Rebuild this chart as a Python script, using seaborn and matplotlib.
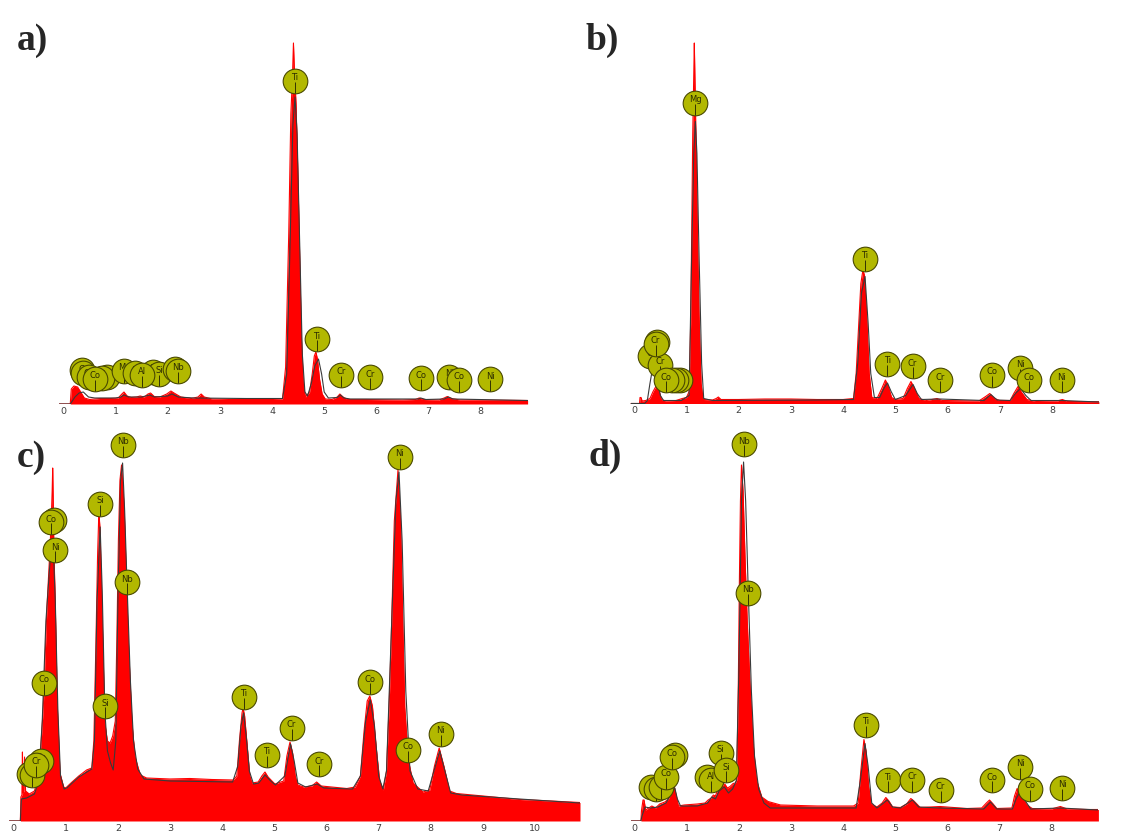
import numpy as np
import pandas as pd
import seaborn as sns
import matplotlib.pyplot as plt

sns.set_style("white")

# ---- spectrum a) : energy (keV) / counts (a.u.) ----
a_red_x = [-0.08, 0.13, 0.15, 0.20, 0.27, 0.33, 0.40, 0.50, 0.70, 0.90, 1.05, 1.12, 1.16, 1.22, 1.30,
           1.40, 1.47, 1.55, 1.62, 1.67, 1.74, 1.85, 1.98, 2.06, 2.12, 2.25, 2.45, 2.58, 2.64, 2.70,
           2.85, 3.2, 3.6, 4.0, 4.20, 4.26, 4.32, 4.36, 4.39, 4.41, 4.43, 4.46, 4.49, 4.52, 4.56,
           4.60, 4.64, 4.72, 4.77, 4.81, 4.84, 4.87, 4.91, 4.96, 5.02, 5.15, 5.25, 5.30, 5.36, 5.45,
           5.8, 6.5, 6.75, 6.82, 6.9, 7.2, 7.3, 7.36, 7.44, 7.6, 8.2, 8.9]
a_red_y = [0, 0, 15, 18, 17, 12, 6, 4.5, 5.5, 5.5, 6, 10, 12, 8, 6.5,
           7, 8, 7, 10, 11, 7.5, 7, 10, 13, 11, 7, 5.5, 7, 10, 7,
           5, 4.5, 4.5, 4.5, 5, 37, 171, 290, 325, 361, 330, 300, 240, 171, 70,
           20, 7, 12, 30, 48, 52, 45, 25, 10, 5, 4.5, 7, 10, 7, 4.5,
           4.5, 4, 4.5, 6, 4.5, 4, 6, 7.5, 5.5, 4, 3.8, 3.5]
a_fit_x = [-0.08, 0.13, 0.17, 0.22, 0.30, 0.38, 0.48, 0.6, 1.0, 1.1, 1.16, 1.25, 1.5, 1.65, 1.75,
           2.0, 2.08, 2.2, 2.5, 3.5, 4.2, 4.28, 4.34, 4.40, 4.44, 4.48, 4.53, 4.58, 4.63, 4.68,
           4.75, 4.82, 4.89, 4.95, 5.0, 5.08, 5.25, 5.31, 5.38, 5.5, 6.8, 6.85, 6.95, 7.3, 7.38,
           7.47, 8.9]
a_fit_y = [0, 0, 3, 7, 11, 12, 7, 6, 6, 7, 9, 7, 7, 9, 7,
           8, 10, 7, 6, 5.5, 5.5, 30, 150, 280, 307, 270, 160, 50, 12, 8,
           20, 38, 45, 30, 12, 6, 6.5, 9, 6, 5, 5, 6, 4.5, 5, 7,
           5, 3.5]
a_lab_el = ["O", "Cr", "Cr", "Ni", "Ni", "Co", "Si", "Si", "Mg", "Al", "Al", "Nb", "Nb",
            "Ti", "Ti", "Cr", "Cr", "Co", "Ni", "Co", "Ni"]
a_lab_x = [0.36, 0.38, 0.48, 0.83, 0.73, 0.60, 1.72, 1.83, 1.16, 1.37, 1.50, 2.14, 2.20,
           4.44, 4.86, 5.33, 5.88, 6.85, 7.40, 7.58, 8.18]
a_lab_y = [34, 31, 27, 27, 26, 25, 32, 30, 33, 30.5, 29, 35, 33,
           323, 64.5, 29, 26.5, 25.5, 27, 24, 24.5]

# ---- spectrum b) ----
b_red_x = [-0.06, 0.10, 0.11, 0.13, 0.15, 0.22, 0.30, 0.36, 0.43, 0.48, 0.52, 0.6, 0.8, 0.92, 1.0,
           1.05, 1.08, 1.10, 1.12, 1.14, 1.15, 1.16, 1.18, 1.21, 1.24, 1.28, 1.32, 1.5, 1.57, 1.61,
           1.66, 2.0, 2.5, 3.0, 3.5, 4.0, 4.2, 4.25, 4.30, 4.34, 4.38, 4.41, 4.45, 4.50, 4.55,
           4.65, 4.74, 4.81, 4.86, 4.93, 5.0, 5.15, 5.23, 5.30, 5.36, 5.45, 5.6, 5.8, 5.9, 6.6,
           6.73, 6.81, 6.9, 7.0, 7.2, 7.27, 7.35, 7.42, 7.52, 7.7, 8.1, 8.2, 8.3, 8.9]
b_red_y = [0, 0, 6, 6, 2.5, 3, 5, 12, 18.5, 12, 4, 2.5, 3, 5, 6,
           12, 80, 170, 270, 330, 360.5, 330, 270, 170, 90, 20, 4, 3.5, 5, 6.5,
           4, 4, 4.5, 4.5, 4, 4, 5, 30, 80, 120, 133.5, 128, 90, 30, 6,
           5, 15, 23.5, 18, 6, 4, 5, 15, 22, 16, 5, 3, 5, 3, 2.5,
           7, 10, 5, 3, 3, 10, 17, 11, 4, 2, 2.5, 4, 2, 1.8]
b_fit_x = [-0.06, 0.2, 0.25, 0.30, 0.34, 0.38, 0.43, 0.50, 0.56, 0.9, 1.05, 1.10, 1.14, 1.17, 1.20,
           1.24, 1.29, 1.33, 1.5, 3.5, 4.2, 4.28, 4.35, 4.42, 4.48, 4.53, 4.6, 4.7, 4.78, 4.85,
           4.92, 5.0, 5.2, 5.34, 5.42, 5.5, 5.85, 6.7, 6.83, 6.95, 7.2, 7.30, 7.40, 7.5, 7.6,
           8.2, 8.9]
b_fit_y = [0, 0, 3, 20, 32, 34, 25, 8, 3, 3, 8, 150, 250, 282, 250,
           150, 40, 5, 3, 3.5, 4, 40, 110, 127, 80, 30, 6, 6, 15, 20.5,
           12, 4, 8, 19, 10, 4, 4.5, 3, 9, 3.5, 3, 10, 15, 8, 3,
           3, 1.5]
b_lab_el = ["O", "Cr", "Cr", "Cr", "Ni", "Ni", "Co", "Co", "Mg",
            "Ti", "Ti", "Cr", "Cr", "Co", "Ni", "Co", "Ni"]
b_lab_x = [0.30, 0.49, 0.43, 0.41, 0.87, 0.80, 0.72, 0.61, 1.17,
           4.42, 4.85, 5.33, 5.86, 6.85, 7.39, 7.57, 8.19]
b_lab_y = [47.5, 39, 62, 60, 23.5, 23.5, 23.5, 23.5, 301,
           145, 40, 37.5, 23.5, 29, 36, 23.5, 23.5]

# ---- spectrum c) ----
c_red_x = [-0.08, 0.13, 0.14, 0.16, 0.17, 0.18, 0.20, 0.21, 0.23, 0.30, 0.40, 0.48, 0.53, 0.57, 0.61,
           0.64, 0.69, 0.72, 0.74, 0.75, 0.76, 0.77, 0.80, 0.84, 0.89, 0.96, 1.0, 1.1, 1.25, 1.4,
           1.5, 1.54, 1.58, 1.61, 1.63, 1.64, 1.66, 1.67, 1.71, 1.75, 1.80, 1.85, 1.90, 1.95, 1.98,
           2.01, 2.04, 2.07, 2.10, 2.12, 2.16, 2.20, 2.27, 2.33, 2.43, 2.55, 3.0, 3.38, 3.8, 4.21,
           4.28, 4.33, 4.38, 4.40, 4.43, 4.48, 4.53, 4.57, 4.69, 4.76, 4.82, 4.88, 5.01, 5.18, 5.24,
           5.30, 5.35, 5.40, 5.45, 5.56, 5.72, 5.81, 5.9, 6.39, 6.55, 6.65, 6.72, 6.78, 6.83, 6.88,
           6.95, 7.02, 7.09, 7.15, 7.20, 7.24, 7.30, 7.37, 7.42, 7.47, 7.50, 7.57, 7.66, 7.85, 7.98,
           8.07, 8.16, 8.25, 8.36, 8.49, 9.0, 9.7, 10.3, 10.86]
c_red_y = [0, 0, 24, 26, 69, 28, 30, 64, 30, 27, 30, 45, 80, 114, 170,
           214, 264, 298, 330, 353, 320, 281, 214, 114, 48, 34, 33, 38, 45, 51,
           53, 81, 181, 264, 300, 306, 290, 264, 181, 98, 80, 78, 85, 100, 181,
           281, 341, 356, 330, 314, 248, 181, 98, 64, 46, 43, 42, 42.5, 41.5, 41,
           45, 80, 108, 113, 105, 75, 45, 38, 39, 45, 49, 44, 37, 40, 65,
           79, 68, 45, 36, 34, 35, 39, 35, 32.5, 34, 45, 90, 120, 125, 115,
           75, 40, 31, 50, 114, 181, 300, 351, 300, 181, 114, 61, 38, 29, 31,
           55, 73, 55, 30, 27.5, 25, 21.5, 20, 18.5]
c_fit_x = [-0.08, 0.13, 0.15, 0.25, 0.40, 0.48, 0.55, 0.62, 0.70, 0.76, 0.80, 0.85, 0.90, 0.97, 1.02,
           1.25, 1.5, 1.55, 1.60, 1.66, 1.70, 1.75, 1.80, 1.86, 1.91, 1.96, 2.0, 2.05, 2.09, 2.13,
           2.18, 2.24, 2.30, 2.38, 2.5, 3.0, 4.2, 4.3, 4.36, 4.41, 4.46, 4.52, 4.6, 4.7, 4.82,
           4.93, 5.02, 5.2, 5.31, 5.38, 5.45, 5.6, 5.82, 5.95, 6.5, 6.65, 6.75, 6.84, 6.92, 7.0,
           7.08, 7.15, 7.25, 7.33, 7.39, 7.45, 7.52, 7.6, 7.75, 7.95, 8.07, 8.17, 8.27, 8.38, 8.6,
           9.7, 10.86]
c_fit_y = [0, 0, 22, 23, 27, 40, 100, 200, 260, 275, 220, 110, 45, 32, 33,
           44, 52, 80, 220, 294, 230, 110, 70, 58, 51, 80, 220, 340, 358, 310,
           230, 140, 80, 52, 42, 40, 39, 55, 95, 108, 85, 50, 37, 38, 46,
           40, 36, 45, 77, 60, 38, 34, 37, 33, 32, 45, 100, 121, 95, 45,
           32, 50, 200, 320, 349, 280, 130, 50, 32, 30, 52, 70, 50, 28, 26,
           22, 18]
c_lab_el = ["O", "C", "Co", "Cr", "Co", "Si", "Nb", "Ni", "Co", "Co", "Si", "Nb",
            "Ti", "Ti", "Cr", "Cr", "Co", "Ni", "Co", "Ni"]
c_lab_x = [0.29, 0.35, 0.52, 0.43, 0.59, 1.75, 2.17, 0.80, 0.77, 0.72, 1.66, 2.09,
           4.42, 4.85, 5.33, 5.86, 6.84, 7.40, 7.57, 8.19]
c_lab_y = [47.5, 46, 60, 56.5, 138, 115, 239, 271, 301.5, 299, 317.5, 376,
           124, 66, 93.5, 57, 139, 364, 71.5, 87.5]

# ---- spectrum d) ----
d_red_x = [-0.08, 0.12, 0.13, 0.16, 0.18, 0.21, 0.27, 0.33, 0.40, 0.48, 0.58, 0.65, 0.71, 0.76, 0.80,
           0.84, 0.95, 1.2, 1.35, 1.41, 1.47, 1.51, 1.55, 1.60, 1.66, 1.73, 1.78, 1.83, 1.89, 1.93,
           1.96, 1.99, 2.01, 2.03, 2.05, 2.08, 2.12, 2.16, 2.21, 2.28, 2.34, 2.44, 2.56, 2.8, 3.5,
           4.2, 4.29, 4.34, 4.40, 4.44, 4.49, 4.54, 4.65, 4.75, 4.82, 4.88, 4.95, 5.1, 5.22, 5.30,
           5.36, 5.48, 5.86, 6.38, 6.66, 6.75, 6.81, 6.88, 6.95, 7.24, 7.29, 7.34, 7.42, 7.53, 7.63,
           8.0, 8.17, 8.3, 8.69, 8.9]
d_red_y = [0, 0, 10, 21, 21, 11, 13, 15, 13, 17, 19, 22, 30, 34.5, 25,
           15, 16, 17, 18, 21, 23, 26, 25, 32.5, 35, 37, 33, 34.5, 37.5, 38,
           41, 141, 241, 320, 356, 330, 260, 200, 141, 74, 41, 24, 19.5, 16, 15,
           15, 18, 50, 81.5, 70, 35, 17, 14, 18, 23.5, 20, 14, 13.5, 17, 22.5,
           20, 13.5, 14.5, 12.5, 13, 18, 21, 17, 12.5, 13, 25, 32.5, 25, 16, 12.5,
           12, 14.5, 12, 11.5, 11.5]
d_fit_x = [-0.08, 0.12, 0.14, 0.20, 0.3, 0.45, 0.6, 0.7, 0.77, 0.82, 0.88, 1.2, 1.4, 1.48, 1.55,
           1.62, 1.72, 1.80, 1.88, 1.95, 2.0, 2.05, 2.09, 2.13, 2.18, 2.24, 2.30, 2.38, 2.48, 2.6,
           4.25, 4.33, 4.42, 4.48, 4.55, 4.65, 4.85, 4.95, 5.1, 5.33, 5.45, 5.85, 6.7, 6.83, 6.95,
           7.25, 7.32, 7.40, 7.5, 7.6, 8.17, 8.9]
d_fit_y = [0, 0, 5, 14, 13, 14, 18, 27, 33, 22, 15, 15, 18, 24, 22,
           30, 34, 28, 32, 40, 150, 320, 359, 320, 230, 130, 65, 32, 18, 13,
           13, 40, 77.5, 55, 18, 13, 21, 14, 13, 21, 14, 13, 12, 19, 12,
           12, 22, 30, 20, 12, 13, 11]
d_lab_el = ["C", "O", "Cr", "Co", "Co", "Co", "Al", "Al", "Si", "Si", "Nb", "Nb",
            "Ti", "Ti", "Cr", "Cr", "Co", "Ni", "Co", "Ni"]
d_lab_x = [0.31, 0.41, 0.50, 0.60, 0.77, 0.71, 1.38, 1.46, 1.65, 1.76, 2.17, 2.09,
           4.44, 4.86, 5.33, 5.87, 6.86, 7.40, 7.58, 8.21]
d_lab_y = [34, 32.5, 34, 44, 66, 64, 44, 41.5, 68, 51, 228, 377,
           96, 41, 41.5, 31.5, 41, 54, 32.5, 33.5]

# layout in pixels of the 1137x839 canvas: left, right, baseline y, top y
W, H = 1137, 839
panels = [
    ("a)", (17, 50), (59.3, 527.6, 404, 30), (-0.08, 8.9), 9,
     a_red_x, a_red_y, a_fit_x, a_fit_y, a_lab_el, a_lab_x, a_lab_y),
    ("b)", (585, 50), (630.1, 1098.9, 403.5, 30), (-0.08, 8.9), 9,
     b_red_x, b_red_y, b_fit_x, b_fit_y, b_lab_el, b_lab_x, b_lab_y),
    ("c)", (17, 467), (9.4, 580.0, 821, 430), (-0.08, 10.86), 11,
     c_red_x, c_red_y, c_fit_x, c_fit_y, c_lab_el, c_lab_x, c_lab_y),
    ("d)", (588, 466), (630.5, 1098.4, 821, 430), (-0.08, 8.9), 9,
     d_red_x, d_red_y, d_fit_x, d_fit_y, d_lab_el, d_lab_x, d_lab_y),
]

RAD = 12  # label circle radius in px (= y units)

fig = plt.figure(figsize=(W / 100, H / 100), dpi=100)

for tag, tpos, box, xlim, nt, rx, ry, fx, fy, el, lx, ly in panels:
    left, right, base, top = box
    ax = fig.add_axes([left / W, (H - base) / H, (right - left) / W, (base - top) / H])
    ax.set_xlim(*xlim)
    ax.set_ylim(0, base - top)

    ax.fill_between(rx, 0, ry, color="#ff0000", lw=0, zorder=2)
    sns.lineplot(x=rx, y=ry, ax=ax, color="#ff0000", lw=0.8, sort=False, estimator=None, zorder=3)
    sns.lineplot(x=fx, y=fy, ax=ax, color="#3a3a3a", lw=0.8, sort=False, estimator=None, zorder=4)

    # element markers: later ones sit on top of earlier ones, as in the original
    for i, (e, x, y) in enumerate(zip(el, lx, ly)):
        z = 10 + 2 * i
        ax.scatter([x], [y], s=315, color="#b2b800", edgecolor="#4a4a00", lw=0.8, zorder=z,
                   clip_on=False)
        ax.vlines(x, y - RAD, y - 1, color="#333300", lw=0.7, zorder=z + 1, clip_on=False)
        ax.text(x, y + 3, e, ha="center", va="center", fontsize=6, color="#2b2b00",
                family="DejaVu Sans", zorder=z + 1, clip_on=False)

    ax.set_xticks(range(nt))
    ax.tick_params(axis="x", length=0, pad=2, labelsize=6.8, labelcolor="#404040")
    ax.set_yticks([])
    sns.despine(ax=ax, left=True, bottom=True)
    ax.set_xlabel("")
    ax.set_ylabel("")

    fig.text(tpos[0] / W, (H - tpos[1]) / H, tag, family="Liberation Serif",
             fontweight="bold", fontsize=27, ha="left", va="baseline")

fig.savefig("out.png", dpi=100)
